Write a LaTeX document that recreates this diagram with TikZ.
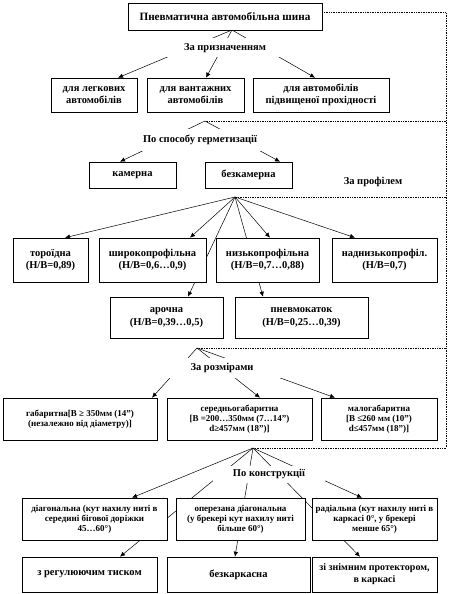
\documentclass[tikz,border=0pt]{standalone}
\usepackage{fontspec}
\setmainfont{Liberation Serif}
\usetikzlibrary{arrows.meta,backgrounds}
\tikzset{
  box/.style={rectangle,draw=black,line width=0.6pt,fill=white,align=center,
    font=\fontsize{10.5}{12.5}\selectfont\bfseries,inner sep=1pt},
  tallbox/.style={box,font=\fontsize{9}{10}\selectfont\bfseries},
  tag/.style={fill=white,inner sep=0pt,font=\fontsize{10.5}{12}\selectfont\bfseries},
  link/.style={-{Latex[length=5pt,width=4.5pt]},line width=0.5pt},
  rail/.style={densely dotted,line width=0.7pt}
}

\begin{document}
\begin{tikzpicture}[x=1pt,y=-1pt]
  \useasboundingbox (0,0) rectangle (450,594);
  \node[box,minimum width=194pt,minimum height=27pt,font=\fontsize{11.2}{13}\selectfont\bfseries] (tyre) at (225,16.5) {Пневматична автомобільна шина};
  \node[box,minimum width=86pt,minimum height=34pt] (legk) at (94,95) {для легкових\\автомобілів};
  \node[box,minimum width=97pt,minimum height=34pt] (vant) at (195.5,95) {для вантажних\\автомобілів};
  \node[box,minimum width=136pt,minimum height=34pt] (pidv) at (321,95) {для автомобілів\\підвищеної прохідності};
  \node[box,minimum width=87pt,minimum height=26pt] (kam) at (132.5,175) {камерна};
  \node[box,minimum width=87pt,minimum height=26pt] (bezk) at (248.5,175) {безкамерна};
  \node[box,minimum width=75pt,minimum height=44pt] (tor) at (50.5,260) {тороїдна\\(H/B=0,89)};
  \node[box,minimum width=107pt,minimum height=44pt] (shyr) at (152.5,260) {широкопрофільна\\(H/B=0,6…0,9)};
  \node[box,minimum width=103pt,minimum height=44pt] (nyz) at (267.5,260) {низькопрофільна\\(H/B=0,7…0,88)};
  \node[box,minimum width=105pt,minimum height=44pt] (nadn) at (384.5,260) {наднизькопрофіл.\\(H/B=0,7)};
  \node[box,minimum width=113pt,minimum height=41pt] (aroch) at (166.5,317.5) {арочна\\(H/B=0,39…0,5)};
  \node[box,minimum width=133pt,minimum height=41pt] (pnev) at (301.5,317.5) {пневмокаток\\(H/B=0,25…0,39)};
  \node[tallbox,minimum width=154pt,minimum height=42pt] (gab) at (80,419) {габаритна[B ≥ 350мм (14")\\(незалежно від діаметру)]};
  \node[tallbox,minimum width=145pt,minimum height=42pt] (ser) at (239.5,419) {середньогабаритна\\{}[B =200…350мм (7…14")\\d≥457мм (18")]};
  \node[tallbox,minimum width=116pt,minimum height=42pt] (mal) at (379,419) {малогабаритна\\{}[B ≤260 мм (10")\\d≤457мм (18")]};
  \node[tallbox,minimum width=145pt,minimum height=42pt] (diag) at (94.5,519) {діагональна (кут нахилу ниті в\\середині бігової доріжки\\45…60°)};
  \node[tallbox,minimum width=129pt,minimum height=42pt] (oper) at (240.5,519) {оперезана діагональна\\(у брекері кут нахилу ниті\\більше 60°)};
  \node[tallbox,minimum width=125pt,minimum height=42pt] (rad) at (374.5,519) {радіальна (кут нахилу ниті в\\каркасі 0°, у брекері\\менше 65°)};
  \node[box,minimum width=135pt,minimum height=35pt] (reg) at (89.5,574.5) {з регулюючим тиском};
  \node[box,minimum width=143pt,minimum height=35pt] (bezkark) at (238.5,574.5) {безкаркасна};
  \node[tallbox,font=\fontsize{10}{12}\selectfont\bfseries,minimum width=125pt,minimum height=35pt] (znim) at (374.5,574.5) {зі знімним протектором,\\в каркасі};
  \coordinate (h1) at (232,30);
  \coordinate (h2) at (205,121);
  \coordinate (h3) at (235,197);
  \coordinate (h4) at (197,348);
  \coordinate (h5) at (253,448);
  \coordinate (r2) at (446,121);
  \coordinate (r3) at (446,197);
  \coordinate (r4) at (446,348);
  \coordinate (r5) at (446,448);
  \begin{scope}[on background layer]
    \draw[link] (h1) -- ([xshift=24pt]legk.north);
    \draw[link] (h1) -- ([xshift=10.5pt]vant.north);
    \draw[link] (h1) -- ([xshift=-6pt]pidv.north);
    \draw[link] (h2) -- ([xshift=-12.5pt]kam.north);
    \draw[link] (h2) -- ([xshift=31.5pt]bezk.north);
    \draw[link] (h3) -- ([xshift=14.5pt]tor.north);
    \draw[link] (h3) -- ([xshift=37.5pt]shyr.north);
    \draw[link] (h3) -- ([xshift=2.5pt]nyz.north);
    \draw[link] (h3) -- ([xshift=-29.5pt]nadn.north);
    \draw[link] (h3) -- ([xshift=21.5pt]aroch.north);
    \draw[link] (h3) -- ([xshift=-38.5pt]pnev.north);
    \draw[link] (h4) -- ([xshift=72pt]gab.north);
    \draw[link] (h4) -- ([xshift=20.5pt]ser.north);
    \draw[link] (h4) -- ([xshift=-44pt]mal.north);
    \draw[link] (h5) -- ([xshift=37.5pt]diag.north);
    \draw[link] (h5) -- ([xshift=-12.5pt]rad.north);
    \draw[link] (h5) -- ([xshift=30.5pt]reg.north);
    \draw[link] (h5) -- ([xshift=-3.5pt]bezkark.north);
    \draw[link] (h5) -- ([xshift=-14.5pt]znim.north);
  \end{scope}
  \draw[rail] ([yshift=4pt]tyre.east) -| (r5) -- (h5);
  \draw[rail] (r2) -- (h2);
  \draw[rail] (r3) -- (h3);
  \draw[rail] (r4) -- (h4);
  \node[tag,minimum width=125pt,minimum height=19pt] (lab1) at (225,48) {За призначенням};
  \node[tag,minimum width=122pt,minimum height=22pt] (lab2) at (200,140) {По способу герметизації};
  \node[tag] (lab3) at (373,182) {За профілем};
  \node[tag,minimum width=120pt,minimum height=20pt] (lab4) at (222,368) {За розмірами};
  \node[tag,minimum width=112pt,minimum height=17pt] (lab5) at (269,474) {По конструкції};
\end{tikzpicture}
\end{document}
